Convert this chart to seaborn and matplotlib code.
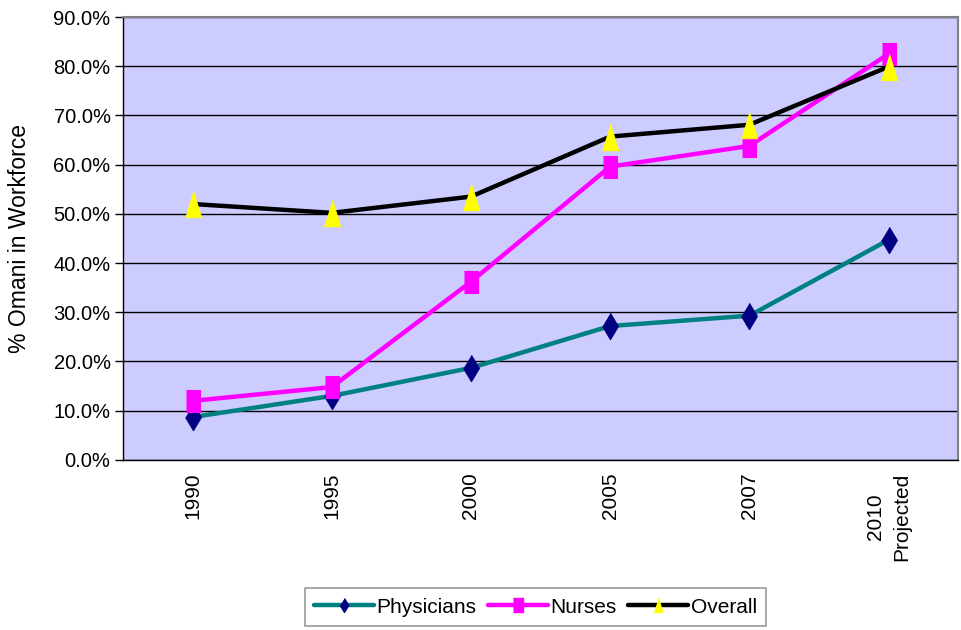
import pandas as pd
import matplotlib
matplotlib.use("Agg")
import matplotlib.pyplot as plt
from matplotlib.lines import Line2D
from matplotlib.ticker import FixedLocator, PercentFormatter
import seaborn as sns

# Chart data
years = ["1990", "1995", "2000", "2005", "2007", "2010\nProjected"]
physicians = [8.7, 13.0, 18.7, 27.2, 29.3, 44.7]
nurses = [12.0, 14.8, 36.2, 59.6, 63.8, 82.5]
overall = [52.0, 50.2, 53.5, 65.7, 68.1, 79.9]

series = ["Physicians", "Nurses", "Overall"]
line_colors = {"Physicians": "#008080", "Nurses": "#FF00FF", "Overall": "#000000"}
marker_colors = {"Physicians": "#000080", "Nurses": "#FF00FF", "Overall": "#FFFF00"}
# Excel-style markers, a bit taller than wide
markers = {
    "Physicians": [(0, 1), (0.6, 0), (0, -1), (-0.6, 0)],
    "Nurses": [(-0.65, -1), (0.65, -1), (0.65, 1), (-0.65, 1)],
    "Overall": [(0, 1), (0.62, -1), (-0.62, -1)],
}
msizes = {"Physicians": 19, "Nurses": 16.5, "Overall": 19}

df = pd.DataFrame({
    "Year": years * 3,
    "Series": ["Physicians"] * 6 + ["Nurses"] * 6 + ["Overall"] * 6,
    "Value": physicians + nurses + overall,
})
df["x"] = list(range(len(years))) * 3

sns.set_style("white")
plt.rcParams["font.family"] = ["Liberation Sans", "DejaVu Sans"]
plt.rcParams["text.color"] = "black"
plt.rcParams["axes.labelcolor"] = "black"
plt.rcParams["xtick.color"] = "black"
plt.rcParams["ytick.color"] = "black"

fig = plt.figure(figsize=(9.61, 6.3), dpi=100)
ax = fig.add_axes([0.128, 0.270, 0.869, 0.703])
ax.set_facecolor("#CCCCFF")

for s in series:
    sub = df[df["Series"] == s]
    sns.lineplot(data=sub, x="x", y="Value", ax=ax, color=line_colors[s],
                 linewidth=3.2, marker=markers[s], markersize=msizes[s],
                 markerfacecolor=marker_colors[s], markeredgecolor=marker_colors[s],
                 legend=False, zorder=3)

ax.set_xlim(-0.5, len(years) - 0.5)
ax.set_ylim(0, 90)
ax.yaxis.set_major_locator(FixedLocator(range(0, 91, 10)))
ax.yaxis.set_major_formatter(PercentFormatter(decimals=1))
ax.grid(axis="y", color="black", linewidth=1)
ax.set_axisbelow(True)

ax.set_xticks(range(len(years)))
ax.set_xticklabels(years, rotation=90, va="top", ha="center", multialignment="center",
                   linespacing=1.5)
ax.set_xticks([i - 0.5 for i in range(len(years) + 1)], minor=True)
ax.tick_params(axis="x", which="major", length=0, pad=9, labelsize=15, labelcolor="black")
ax.tick_params(axis="x", which="minor", length=6, color="black", width=1, direction="out")
ax.tick_params(axis="y", length=6, color="black", width=1, direction="out",
               labelsize=14.5, left=True, pad=3, labelcolor="black")

ax.set_xlabel("")
ax.set_ylabel("% Omani in Workforce", fontsize=16.5, color="black")
ax.yaxis.set_label_coords(-0.11, 0.5)

for side in ["top", "right"]:
    ax.spines[side].set_color("#808080")
    ax.spines[side].set_linewidth(1.5)
for side in ["left", "bottom"]:
    ax.spines[side].set_color("black")
    ax.spines[side].set_linewidth(1)

handles = [Line2D([0], [0], color=line_colors[s], linewidth=3.2, marker=markers[s],
                  markersize=10, markerfacecolor=marker_colors[s],
                  markeredgecolor=marker_colors[s]) for s in series]
leg = fig.legend(handles, series, loc="center", bbox_to_anchor=(0.557, 0.0365), ncol=3,
                 frameon=True, fancybox=False, fontsize=15, handlelength=2.9,
                 handletextpad=0.1, columnspacing=0.55, borderpad=0.45,
                 borderaxespad=0, labelcolor="black")
leg.get_frame().set_edgecolor("#808080")
leg.get_frame().set_linewidth(1.2)

fig.savefig("out.png", dpi=100)
